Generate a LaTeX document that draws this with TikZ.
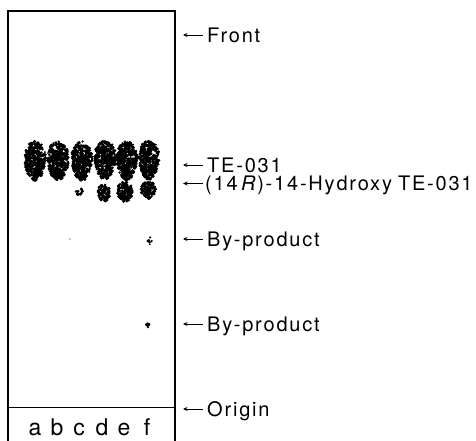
\documentclass[tikz,border=0pt]{standalone}
\usepackage{fontspec}
\setmainfont{TeX Gyre Heros}
\newfontfamily\lblfont[LetterSpace=9]{TeX Gyre Heros}
\usetikzlibrary{arrows.meta}
\newcommand\tlcspot[6]{%
  \pgfmathsetseed{#6}%
  \foreach \k in {1,...,#5}{%
    \pgfmathsetmacro\sprad{sqrt(rnd)}%
    \pgfmathsetmacro\spang{360*rnd}%
    \pgfmathsetmacro\spyy{\sprad*sin(\spang)}%
    \pgfmathsetmacro\spxx{\sprad*cos(\spang)*(1-0.25*(\spyy+1)/2)}%
    \pgfmathsetmacro\spdot{0.9+1.0*rnd}%
    \fill (#1+#3*\spxx, #2+#4*\spyy) circle (\spdot pt);
  }}
\tikzset{
  lbl/.style={anchor=base west, inner sep=0pt, font=\lblfont\fontsize{20}{20}\selectfont},
  lane/.style={anchor=base, inner sep=0pt, font=\fontsize{23}{23}\selectfont},
  arr/.style={line width=0.9pt, -{Stealth[length=4.5pt,width=4pt]}, shorten <=4pt},
  frame/.style={line width=1.1pt}
}
\begin{document}
\begin{tikzpicture}[x=1pt,y=-1pt]
\useasboundingbox (0,0) rectangle (476,441);
% spots
\tlcspot{35}{161}{12}{19.5}{380}{11}
\tlcspot{58}{161}{12}{19.5}{380}{12}
\tlcspot{82}{161}{11.5}{19.5}{380}{13}
\tlcspot{105}{160}{12}{19.5}{380}{14}
\tlcspot{127}{161}{12}{19.5}{380}{15}
\tlcspot{149}{160}{11.5}{19.5}{380}{16}
\tlcspot{79}{191}{4}{4.5}{12}{21}
\tlcspot{104}{193}{7.5}{9}{100}{22}
\tlcspot{125}{192}{9}{10}{150}{23}
\tlcspot{148}{190}{8.5}{8.5}{120}{24}
\tlcspot{150}{241}{2.5}{4}{7}{31}
\tlcspot{148}{325}{2.5}{2.5}{9}{32}
\fill (70,239) circle (0.6pt);
% plate frame
\draw[frame] (8,460) -- (8,11) -- (175,11) -- (175,460);
\draw[frame] (8,407.5) -- (175,407.5);
% lane letters
\node[lane] (la) at (35,435) {a};
\node[lane] (lb) at (57,435) {b};
\node[lane] (lc) at (79,435) {c};
\node[lane] (ld) at (102,435) {d};
\node[lane] (le) at (124,435) {e};
\node[lane] (lf) at (147,435) {f};
% labels
\node[lbl] (front) at (207,43) {Front};
\node[lbl] (te) at (207,172) {TE-031};
\node[lbl] (hyd) at (205,190.5) {(14\,\textit{R})-14-Hydroxy\hspace{6pt}TE-031};
\node[lbl] (bp1) at (207,246) {By-product};
\node[lbl] (bp2) at (207,331) {By-product};
\node[lbl] (orig) at (207,416) {Origin};
\coordinate (afront) at (183,35);
\coordinate (ate) at (183,165);
\coordinate (ahyd) at (183,183.5);
\coordinate (abp1) at (183,239);
\coordinate (abp2) at (183,324);
\coordinate (aorig) at (183,409);
\draw[arr] (front.west |- afront) -- (afront);
\draw[arr] (te.west |- ate) -- (ate);
\draw[arr] ([xshift=2pt]hyd.west |- ahyd) -- (ahyd);
\draw[arr] (bp1.west |- abp1) -- (abp1);
\draw[arr] (bp2.west |- abp2) -- (abp2);
\draw[arr] (orig.west |- aorig) -- (aorig);
\end{tikzpicture}
\end{document}
